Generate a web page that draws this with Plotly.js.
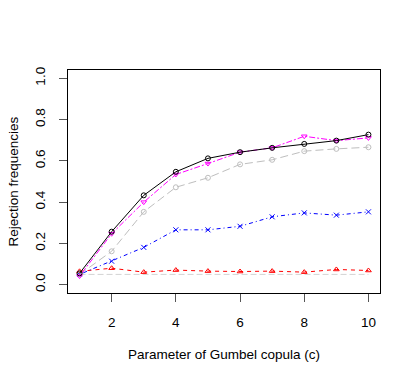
<!DOCTYPE html>
<html>
<head>
<meta charset="utf-8">
<script src="https://cdn.plot.ly/plotly-3.0.1.min.js"></script>
<style>
  html, body { margin: 0; padding: 0; background: #fff; }
  #chart { width: 415px; height: 382px; }
</style>
</head>
<body>
<div id="chart"></div>
<script>
// Gumbel copula parameter
const copulaParam = [1, 2, 3, 4, 5, 6, 7, 8, 9, 10];

// rejection frequencies
const blackCircle = [0.055, 0.257, 0.433, 0.547, 0.612, 0.642, 0.663, 0.682, 0.698, 0.727];
const magentaTri  = [0.042, 0.247, 0.400, 0.534, 0.587, 0.642, 0.663, 0.719, 0.698, 0.711];
const grayCircle  = [0.050, 0.162, 0.353, 0.472, 0.518, 0.583, 0.605, 0.647, 0.658, 0.666];
const blueCross   = [0.050, 0.114, 0.181, 0.266, 0.266, 0.283, 0.329, 0.348, 0.337, 0.353];
const redTri      = [0.065, 0.080, 0.061, 0.071, 0.066, 0.064, 0.066, 0.061, 0.074, 0.069];
const nominalLevel = 0.05;

const yTicks = [0, 0.2, 0.4, 0.6, 0.8, 1.0];
const yTickText = ['0.0', '0.2', '0.4', '0.6', '0.8', '1.0'];
const xTicks = [2, 4, 6, 8, 10];

function series(y, color, dash, symbol) {
    return {
        x: copulaParam, y: y,
        type: 'scatter', mode: 'lines+markers',
        line: { color: color, width: 1, dash: dash },
        marker: { symbol: symbol, size: 5, color: color, line: { color: color, width: 1 } },
        hoverinfo: 'skip'
    };
}

const traces = [
    {
        x: [copulaParam[0], copulaParam[copulaParam.length - 1]],
        y: [nominalLevel, nominalLevel],
        type: 'scatter', mode: 'lines',
        line: { color: '#d3d3d3', width: 1, dash: '6px,3px' },
        hoverinfo: 'skip'
    },
    series(redTri, '#ff0000', '4px,4px', 'triangle-up-open'),
    series(blueCross, '#0000ff', '1px,3px,4px,3px', 'x-thin-open'),
    series(grayCircle, '#bebebe', '8px,4px', 'circle-open'),
    series(magentaTri, '#ff00ff', '2px,2px,6px,2px', 'triangle-down-open'),
    series(blackCircle, '#000000', 'solid', 'circle-open')
];

const font = { family: 'Liberation Sans, Arial, sans-serif', size: 13.5, color: '#000' };

const layout = {
    width: 415, height: 382,
    margin: { l: 68, r: 35, t: 70, b: 89 },
    paper_bgcolor: '#fff', plot_bgcolor: '#fff',
    showlegend: false,
    font: font,
    xaxis: {
        range: [0.64, 10.36],
        tickvals: xTicks,
        automargin: false,
        ticks: 'outside', ticklen: 8, tickcolor: '#555', tickwidth: 1,
        ticklabelstandoff: 9,
        showgrid: false, zeroline: false,
        showline: true, mirror: true, linecolor: '#000', linewidth: 1,
        tickfont: font
    },
    yaxis: {
        range: [-0.04, 1.04],
        tickvals: yTicks, ticktext: yTickText,
        tickangle: -90,
        automargin: false,
        ticks: 'outside', ticklen: 8, tickcolor: '#555', tickwidth: 1,
        ticklabelstandoff: 9,
        showgrid: false, zeroline: false,
        showline: true, mirror: true, linecolor: '#000', linewidth: 1,
        tickfont: font
    },
    annotations: [
        {
            text: 'Parameter of Gumbel copula (c)', font: font, showarrow: false,
            xref: 'paper', yref: 'paper', x: 0.5, y: 0,
            xanchor: 'center', yanchor: 'middle', yshift: -61
        },
        {
            text: 'Rejection frequencies', font: font, showarrow: false, textangle: -90,
            xref: 'paper', yref: 'paper', x: 0, y: 0.5,
            xanchor: 'center', yanchor: 'middle', xshift: -55
        }
    ]
};

Plotly.newPlot('chart', traces, layout, { displayModeBar: false, staticPlot: true });
</script>
</body>
</html>
